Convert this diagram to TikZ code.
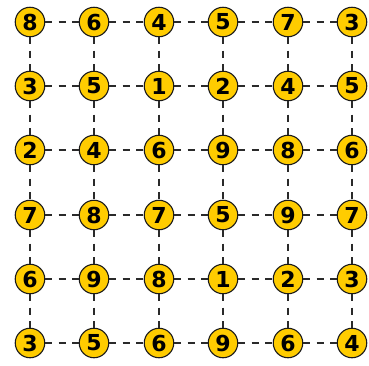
\documentclass[tikz,border=0pt]{standalone}
\usepackage{fontspec}
\newfontfamily\digitfont{DejaVu Sans}[BoldFont={DejaVu Sans Bold}]
\definecolor{gold}{HTML}{FFCC00}
\definecolor{edgec}{HTML}{1A1A1A}
\definecolor{linkc}{HTML}{2A2A2A}
\tikzset{
  cell/.style={circle, draw=edgec, line width=1.1pt, fill=gold, minimum size=29.5pt, inner sep=0pt, font=\digitfont\bfseries\fontsize{22}{22}\selectfont},
  link/.style={draw=linkc, line width=2pt, dash pattern=on 7pt off 6.4pt}
}
\begin{document}
\begin{tikzpicture}[x=1pt,y=-1pt]
\useasboundingbox (0,0) rectangle (369,365);
\foreach \r/\y/\a/\b/\c/\d/\e/\f in {1/22/8/6/4/5/7/3,2/86/3/5/1/2/4/5,3/150/2/4/6/9/8/6,4/215/7/8/7/5/9/7,5/279/6/9/8/1/2/3,6/343/3/5/6/9/6/4}{
  \foreach \k/\x/\v in {1/30/\a,2/94/\b,3/159/\c,4/223/\d,5/288/\e,6/352/\f}{
    \node[cell] (n\r\k) at (\x,\y) {\v};
  }
}
\foreach \r in {1,...,6}{
  \foreach \k/\kn in {1/2,2/3,3/4,4/5,5/6}{
    \draw[link] (n\r\k) -- (n\r\kn);
  }
}
\foreach \r/\rn in {1/2,2/3,3/4,4/5,5/6}{
  \foreach \k in {1,...,6}{
    \draw[link] (n\r\k) -- (n\rn\k);
  }
}
\end{tikzpicture}
\end{document}
